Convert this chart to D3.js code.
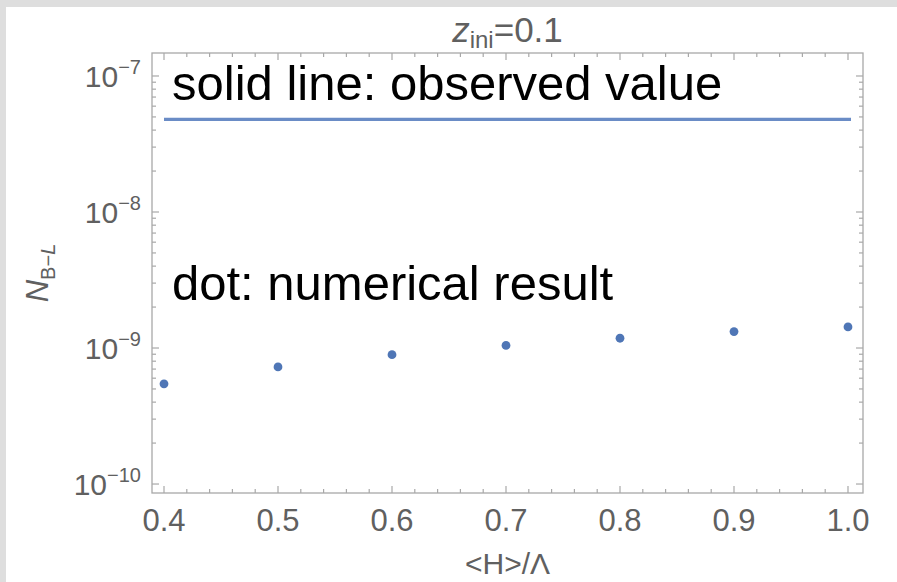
<!DOCTYPE html>
<html>
<head>
<meta charset="utf-8">
<script src="https://cdn.jsdelivr.net/npm/d3@7"></script>
<style>
  html, body { margin: 0; padding: 0; background: #fff; }
  svg { display: block; font-family: "Liberation Sans", Arial, Helvetica, sans-serif; }
</style>
</head>
<body>
<svg id="chart"></svg>
<script>
// data
const xVals = [0.4, 0.5, 0.6, 0.7, 0.8, 0.9, 1.0];
const nBL = [5.45e-10, 7.26e-10, 8.93e-10, 1.045e-9, 1.18e-9, 1.32e-9, 1.43e-9];
const observed = 4.8e-8;
const observedRange = [0.4, 1.0];
const xTicks = [0.4, 0.5, 0.6, 0.7, 0.8, 0.9, 1.0];
const yDecades = [-10, -9, -8, -7];

const width = 897, height = 582;
const frame = { left: 152, right: 863, top: 53, bottom: 493 };

var svg = d3.select("#chart").attr("width", width).attr("height", height);

// gray border strip top and left
svg.append("rect").attr("x", 0).attr("y", 0).attr("width", width).attr("height", height).attr("fill", "#dedede");
svg.append("rect").attr("x", 6).attr("y", 7).attr("width", width - 6).attr("height", height - 7).attr("fill", "#fff");

const x = d3.scaleLinear().domain([0.38947, 1.01316]).range([frame.left, frame.right]);
const y = d3.scaleLog().domain([Math.pow(10, -10.066), Math.pow(10, -6.831)]).range([frame.bottom, frame.top]);

const frameColor = "#a8a8a8";
const labelColor = "#606060";

// frame
svg.append("rect")
    .attr("x", frame.left).attr("y", frame.top)
    .attr("width", frame.right - frame.left).attr("height", frame.bottom - frame.top)
    .attr("fill", "none").attr("stroke", frameColor).attr("stroke-width", 1.3);

// x ticks (major + minor), bottom and top
var minorX = d3.range(0.4, 1.0001, 0.02).map(d => +d.toFixed(2));
var ticks = svg.append("g").attr("stroke", frameColor).attr("stroke-width", 1.2);
minorX.forEach(function (d) {
    var major = xTicks.some(t => Math.abs(t - d) < 1e-6);
    var len = major ? 7 : 4;
    ticks.append("line").attr("x1", x(d)).attr("x2", x(d)).attr("y1", frame.bottom).attr("y2", frame.bottom - len);
    ticks.append("line").attr("x1", x(d)).attr("x2", x(d)).attr("y1", frame.top).attr("y2", frame.top + len);
});

// y ticks (log), left and right
yDecades.forEach(function (e) {
    for (let m = 1; m <= 9; m++) {
        var v = m * Math.pow(10, e);
        var [lo, hi] = y.domain();
        if (v < lo || v > hi) continue;
        var len = m == 1 ? 7 : 4;
        ticks.append("line").attr("x1", frame.left).attr("x2", frame.left + len).attr("y1", y(v)).attr("y2", y(v));
        ticks.append("line").attr("x1", frame.right).attr("x2", frame.right - len).attr("y1", y(v)).attr("y2", y(v));
    }
});

// x tick labels
svg.append("g").selectAll("text")
    .data(xTicks)
    .enter().append("text")
    .attr("x", d => x(d))
    .attr("y", 531)
    .attr("text-anchor", "middle")
    .attr("fill", labelColor)
    .style("font-size", "31px")
    .text(d => d.toFixed(1));

// y tick labels 10^n
var yl = svg.append("g").selectAll("text")
    .data(yDecades)
    .enter().append("text")
    .attr("x", 141)
    .attr("y", d => y(Math.pow(10, d)) + 11)
    .attr("text-anchor", "end")
    .attr("fill", labelColor)
    .style("font-size", "30px");
yl.append("tspan").text("10");
yl.append("tspan").attr("dy", -13).style("font-size", "20px").text(d => "\u2212" + Math.abs(d));

// title
var title = svg.append("text")
    .attr("x", (frame.left + frame.right) / 2)
    .attr("y", 42)
    .attr("text-anchor", "middle")
    .attr("fill", labelColor)
    .style("font-size", "35px");
title.append("tspan").style("font-style", "italic").text("z");
title.append("tspan").attr("dy", 6).style("font-size", "24px").text("ini");
title.append("tspan").attr("dy", -6).text("=0.1");

// axis labels
svg.append("text")
    .attr("x", (frame.left + frame.right) / 2)
    .attr("y", 574)
    .attr("text-anchor", "middle")
    .attr("fill", labelColor)
    .style("font-size", "30px")
    .text("<H>/\u039B");

var ylab = svg.append("text")
    .attr("transform", "translate(48," + ((frame.top + frame.bottom) / 2) + ") rotate(-90)")
    .attr("text-anchor", "middle")
    .attr("fill", labelColor)
    .style("font-size", "31px");
ylab.append("tspan").style("font-style", "italic").text("N");
ylab.append("tspan").attr("dy", 7).style("font-size", "20px").text("B\u2212");
ylab.append("tspan").style("font-size", "20px").style("font-style", "italic").text("L");

// observed value line
svg.append("line")
    .attr("x1", x(observedRange[0])).attr("x2", x(observedRange[1]) + 3)
    .attr("y1", y(observed)).attr("y2", y(observed))
    .attr("stroke", "#6a8cc6").attr("stroke-width", 3.2);

// numerical result dots
svg.append("g").selectAll("circle")
    .data(xVals)
    .enter().append("circle")
    .attr("cx", d => x(d))
    .attr("cy", (d, i) => y(nBL[i]))
    .attr("r", 4.4)
    .attr("fill", "#4f76b6");

// annotations
svg.append("text").attr("x", 172).attr("y", 100)
    .attr("fill", "#000").style("font-size", "49px")
    .text("solid line: observed value");
svg.append("text").attr("x", 172).attr("y", 300)
    .attr("fill", "#000").style("font-size", "49px")
    .text("dot: numerical result");
</script>
</body>
</html>
